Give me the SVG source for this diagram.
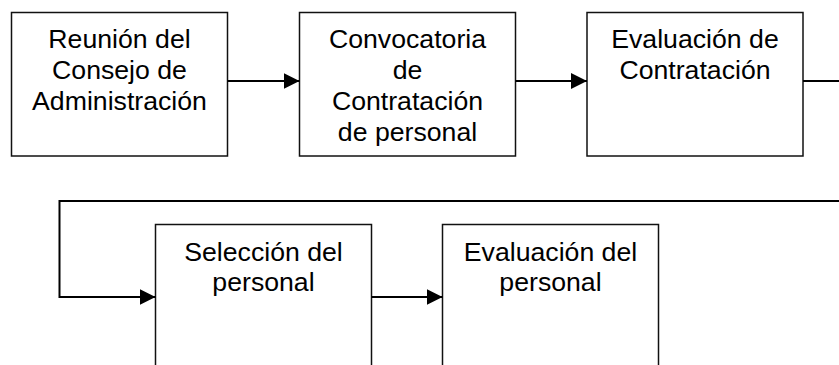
<svg xmlns="http://www.w3.org/2000/svg" width="839" height="365" viewBox="0 0 839 365">
<style>
.box{fill:#fff;stroke:#111;stroke-width:1.5}
.lbl{font-family:"Liberation Sans",Arial,sans-serif;font-size:26.67px;fill:#000;text-anchor:middle}
.conn{fill:none;stroke:#000;stroke-width:2}
</style>
<defs>
<marker id="arr" viewBox="0 0 16 16" refX="16" refY="8" markerWidth="16" markerHeight="16" markerUnits="userSpaceOnUse" orient="auto">
<path d="M0,0 L16,8 L0,16 z" fill="#000"/>
</marker>
</defs>
<rect width="839" height="365" fill="#fff"/>
<g id="n1">
<rect class="box" x="11.5" y="12.5" width="216" height="143.5"/>
<text class="lbl" x="119.5" y="48.3">Reunión del</text>
<text class="lbl" x="119.5" y="79.1">Consejo de</text>
<text class="lbl" x="119.5" y="110">Administración</text>
</g>
<g id="n2">
<rect class="box" x="299.5" y="12.5" width="216" height="143.5"/>
<text class="lbl" x="407.5" y="48.3">Convocatoria</text>
<text class="lbl" x="407.5" y="79.1">de</text>
<text class="lbl" x="407.5" y="110">Contratación</text>
<text class="lbl" x="407.5" y="140.8">de personal</text>
</g>
<g id="n3">
<rect class="box" x="587" y="12.5" width="216" height="143.5"/>
<text class="lbl" x="695" y="48.3">Evaluación de</text>
<text class="lbl" x="695" y="79.1">Contratación</text>
</g>
<g id="n4">
<rect class="box" x="155.5" y="224.5" width="216" height="160"/>
<text class="lbl" x="263.5" y="260.6">Selección del</text>
<text class="lbl" x="263.5" y="291.4">personal</text>
</g>
<g id="n5">
<rect class="box" x="442.5" y="224.5" width="216" height="160"/>
<text class="lbl" x="550.5" y="260.6">Evaluación del</text>
<text class="lbl" x="550.5" y="291.4">personal</text>
</g>
<g id="connectors">
<path class="conn" d="M227.5,81 H299.5" marker-end="url(#arr)"/>
<path class="conn" d="M515.5,81 H587" marker-end="url(#arr)"/>
<path class="conn" d="M803,81 H850 V201 H59.5 V297 H155.5" marker-end="url(#arr)"/>
<path class="conn" d="M371.5,297 H442.5" marker-end="url(#arr)"/>
</g>
</svg>
